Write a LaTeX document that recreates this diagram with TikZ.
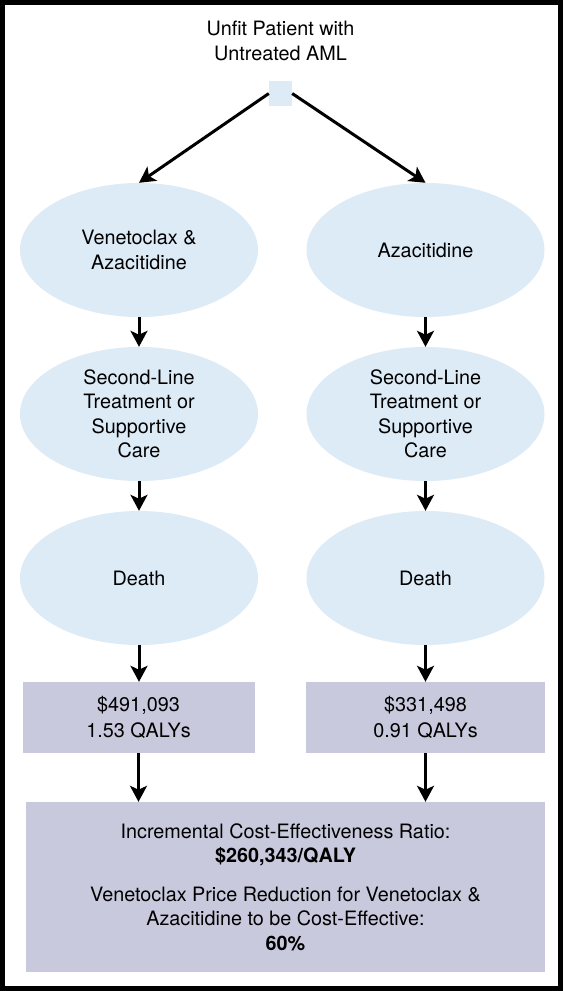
\documentclass[tikz,border=0pt]{standalone}
\usepackage{fontspec}
\setmainfont{TeX Gyre Heros}
\usetikzlibrary{shapes.geometric,arrows.meta}
\definecolor{ellfill}{RGB}{221,235,247}
\definecolor{boxfill}{RGB}{201,201,221}
\begin{document}
\begin{tikzpicture}[x=1pt,y=-1pt,
  txt/.style={font=\fontsize{19.8}{24.5}\selectfont, align=center, text=black},
  oval/.style={txt, ellipse, fill=ellfill, minimum width=238pt, minimum height=134pt, inner sep=0pt},
  resbox/.style={txt, rectangle, fill=boxfill, minimum width=232pt, minimum height=71pt, inner sep=0pt},
  arr/.style={line width=3pt, -{Stealth[length=16pt,width=17pt,inset=4pt]}}
]
\useasboundingbox (0,0) rectangle (563,991);
\fill[white] (0,0) rectangle (563,991);
\draw[line width=5pt] (2.5,2.5) rectangle (560.5,988.5);

\node[txt] (top) at (280.5,41) {Unfit Patient with\\Untreated AML};
\node[fill=ellfill, minimum width=23pt, minimum height=25pt, inner sep=0pt] (sq) at (280.5,93.5) {};

\node[oval] (l1) at (139,250) {Venetoclax \&\\Azacitidine};
\node[oval] (r1) at (425.5,250) {Azacitidine};
\node[oval] (l2) at (139,414) {Second-Line\\Treatment or\\Supportive\\Care};
\node[oval] (r2) at (425.5,414) {Second-Line\\Treatment or\\Supportive\\Care};
\node[oval] (l3) at (139,578) {Death};
\node[oval] (r3) at (425.5,578) {Death};

\node[resbox, font=\fontsize{19.8}{26}\selectfont] (lb) at (138.5,717.5) {\$491,093\\1.53 QALYs};
\node[resbox, font=\fontsize{19.8}{26}\selectfont, minimum width=239pt] (rb) at (425.5,717.5) {\$331,498\\0.91 QALYs};

\node[txt, rectangle, fill=boxfill, minimum width=519pt, minimum height=170pt, inner sep=0pt] (fin) at (285.5,887)
  {Incremental Cost-Effectiveness Ratio:\\\textbf{\$260,343/QALY}\\[14pt]
   Venetoclax Price Reduction for Venetoclax \&\\Azacitidine to be Cost-Effective:\\\textbf{60\%}};

\draw[arr] (sq.west) -- (l1.north);
\draw[arr] (sq.east) -- (r1.north);
\draw[arr] (l1.south) -- (l2.north);
\draw[arr] (r1.south) -- (r2.north);
\draw[arr] (l2.south) -- (l3.north);
\draw[arr] (r2.south) -- (r3.north);
\draw[arr] (l3.south) -- (l3.south |- lb.north);
\draw[arr] (r3.south) -- (r3.south |- rb.north);
\draw[arr] (lb.south) -- (lb.south |- fin.north);
\draw[arr] (rb.south) -- (rb.south |- fin.north);
\end{tikzpicture}
\end{document}
